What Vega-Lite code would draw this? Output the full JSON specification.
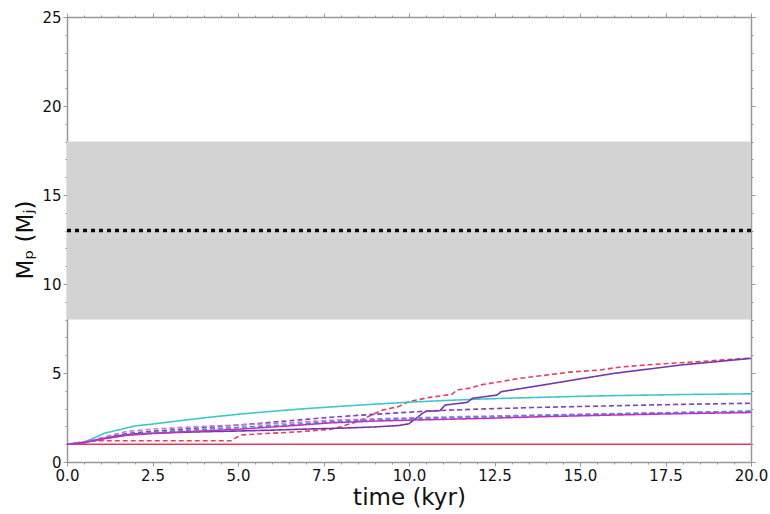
{
  "$schema": "https://vega.github.io/schema/vega-lite/v6.json",
  "autosize": "none",
  "width": 684,
  "height": 445,
  "padding": {"left": 67, "top": 17, "right": 19, "bottom": 52},
  "background": "white",
  "config": {
    "font": "DejaVu Sans",
    "view": {"stroke": null},
    "axis": {
      "grid": false,
      "domainColor": "#999999",
      "domainWidth": 1.5,
      "tickColor": "#999999",
      "tickWidth": 1,
      "labelColor": "#111111",
      "labelFontSize": 15,
      "labelFont": "DejaVu Sans",
      "titleFont": "DejaVu Sans",
      "titleFontWeight": "normal",
      "titleColor": "#111111",
      "titleFontSize": 23,
      "labelFlush": false,
      "labelOverlap": false
    }
  },
  "datasets": {
    "band": [{"x0": 0, "x1": 20, "lo": 8, "hi": 18}],
    "level": [{"mass": 13}],
    "tracks": [
      {"series": "s1", "t": 0, "m": 1.0}, {"series": "s1", "t": 5, "m": 1.0}, {"series": "s1", "t": 10, "m": 1.0}, {"series": "s1", "t": 15, "m": 1.0}, {"series": "s1", "t": 20, "m": 1.0},

      {"series": "s2", "t": 0, "m": 1.0}, {"series": "s2", "t": 0.3, "m": 1.08}, {"series": "s2", "t": 0.6, "m": 1.17}, {"series": "s2", "t": 1.0, "m": 1.19}, {"series": "s2", "t": 2, "m": 1.19}, {"series": "s2", "t": 3, "m": 1.19}, {"series": "s2", "t": 4, "m": 1.19}, {"series": "s2", "t": 4.8, "m": 1.19}, {"series": "s2", "t": 4.95, "m": 1.38}, {"series": "s2", "t": 5.1, "m": 1.52}, {"series": "s2", "t": 6, "m": 1.62}, {"series": "s2", "t": 6.8, "m": 1.7}, {"series": "s2", "t": 7.7, "m": 1.84}, {"series": "s2", "t": 8.0, "m": 1.98}, {"series": "s2", "t": 8.5, "m": 2.28}, {"series": "s2", "t": 9.2, "m": 2.9}, {"series": "s2", "t": 9.7, "m": 3.12}, {"series": "s2", "t": 10.0, "m": 3.4}, {"series": "s2", "t": 10.6, "m": 3.63}, {"series": "s2", "t": 11.26, "m": 3.8}, {"series": "s2", "t": 11.4, "m": 4.05}, {"series": "s2", "t": 11.8, "m": 4.15}, {"series": "s2", "t": 12.1, "m": 4.33}, {"series": "s2", "t": 12.66, "m": 4.51}, {"series": "s2", "t": 13.25, "m": 4.7}, {"series": "s2", "t": 14.0, "m": 4.88}, {"series": "s2", "t": 14.7, "m": 5.05}, {"series": "s2", "t": 15.58, "m": 5.17}, {"series": "s2", "t": 16.2, "m": 5.34}, {"series": "s2", "t": 17.0, "m": 5.46}, {"series": "s2", "t": 17.8, "m": 5.56}, {"series": "s2", "t": 18.5, "m": 5.64}, {"series": "s2", "t": 19.2, "m": 5.74}, {"series": "s2", "t": 20, "m": 5.84},

      {"series": "s3", "t": 0, "m": 1.0}, {"series": "s3", "t": 0.5, "m": 1.12}, {"series": "s3", "t": 0.75, "m": 1.32}, {"series": "s3", "t": 1.1, "m": 1.62}, {"series": "s3", "t": 1.5, "m": 1.8}, {"series": "s3", "t": 2.0, "m": 2.03}, {"series": "s3", "t": 2.5, "m": 2.13}, {"series": "s3", "t": 3, "m": 2.25}, {"series": "s3", "t": 4, "m": 2.48}, {"series": "s3", "t": 5, "m": 2.68}, {"series": "s3", "t": 6, "m": 2.85}, {"series": "s3", "t": 7, "m": 3.0}, {"series": "s3", "t": 8, "m": 3.13}, {"series": "s3", "t": 9, "m": 3.25}, {"series": "s3", "t": 10, "m": 3.36}, {"series": "s3", "t": 11, "m": 3.45}, {"series": "s3", "t": 12, "m": 3.53}, {"series": "s3", "t": 13, "m": 3.59}, {"series": "s3", "t": 14, "m": 3.64}, {"series": "s3", "t": 15, "m": 3.69}, {"series": "s3", "t": 16, "m": 3.73}, {"series": "s3", "t": 17, "m": 3.76}, {"series": "s3", "t": 18, "m": 3.79}, {"series": "s3", "t": 19, "m": 3.81}, {"series": "s3", "t": 20, "m": 3.83},

      {"series": "s4", "t": 0, "m": 1.0}, {"series": "s4", "t": 0.5, "m": 1.1}, {"series": "s4", "t": 1.0, "m": 1.3}, {"series": "s4", "t": 1.5, "m": 1.48}, {"series": "s4", "t": 2, "m": 1.58}, {"series": "s4", "t": 3, "m": 1.65}, {"series": "s4", "t": 4, "m": 1.7}, {"series": "s4", "t": 5, "m": 1.74}, {"series": "s4", "t": 6, "m": 1.79}, {"series": "s4", "t": 6.8, "m": 1.84}, {"series": "s4", "t": 8, "m": 1.9}, {"series": "s4", "t": 9, "m": 1.97}, {"series": "s4", "t": 9.7, "m": 2.05}, {"series": "s4", "t": 10.0, "m": 2.15}, {"series": "s4", "t": 10.4, "m": 2.74}, {"series": "s4", "t": 10.5, "m": 2.85}, {"series": "s4", "t": 10.9, "m": 2.88}, {"series": "s4", "t": 11.06, "m": 3.2}, {"series": "s4", "t": 11.7, "m": 3.35}, {"series": "s4", "t": 11.86, "m": 3.58}, {"series": "s4", "t": 12.57, "m": 3.76}, {"series": "s4", "t": 12.7, "m": 3.95}, {"series": "s4", "t": 14, "m": 4.35}, {"series": "s4", "t": 15, "m": 4.67}, {"series": "s4", "t": 16, "m": 4.98}, {"series": "s4", "t": 17, "m": 5.22}, {"series": "s4", "t": 18, "m": 5.46}, {"series": "s4", "t": 19, "m": 5.64}, {"series": "s4", "t": 20, "m": 5.82},

      {"series": "s5", "t": 0, "m": 1.0}, {"series": "s5", "t": 0.5, "m": 1.1}, {"series": "s5", "t": 1, "m": 1.33}, {"series": "s5", "t": 1.75, "m": 1.6}, {"series": "s5", "t": 2.5, "m": 1.73}, {"series": "s5", "t": 3.7, "m": 1.89}, {"series": "s5", "t": 5, "m": 2.07}, {"series": "s5", "t": 6.5, "m": 2.32}, {"series": "s5", "t": 7.7, "m": 2.51}, {"series": "s5", "t": 8.5, "m": 2.62}, {"series": "s5", "t": 9.5, "m": 2.74}, {"series": "s5", "t": 10.7, "m": 2.88}, {"series": "s5", "t": 12, "m": 2.97}, {"series": "s5", "t": 13.6, "m": 3.06}, {"series": "s5", "t": 16, "m": 3.16}, {"series": "s5", "t": 18, "m": 3.24}, {"series": "s5", "t": 20, "m": 3.3},

      {"series": "s6", "t": 0, "m": 1.0}, {"series": "s6", "t": 0.5, "m": 1.1}, {"series": "s6", "t": 1, "m": 1.36}, {"series": "s6", "t": 1.75, "m": 1.72}, {"series": "s6", "t": 2.5, "m": 1.85}, {"series": "s6", "t": 3.7, "m": 1.98}, {"series": "s6", "t": 5, "m": 2.08}, {"series": "s6", "t": 6.5, "m": 2.2}, {"series": "s6", "t": 7.7, "m": 2.34}, {"series": "s6", "t": 9, "m": 2.43}, {"series": "s6", "t": 10, "m": 2.48}, {"series": "s6", "t": 12, "m": 2.57}, {"series": "s6", "t": 14, "m": 2.65}, {"series": "s6", "t": 16, "m": 2.72}, {"series": "s6", "t": 18, "m": 2.79}, {"series": "s6", "t": 20, "m": 2.85},

      {"series": "s7", "t": 0, "m": 1.0}, {"series": "s7", "t": 0.5, "m": 1.08}, {"series": "s7", "t": 1, "m": 1.28}, {"series": "s7", "t": 1.75, "m": 1.52}, {"series": "s7", "t": 2.5, "m": 1.65}, {"series": "s7", "t": 3.7, "m": 1.8}, {"series": "s7", "t": 5, "m": 1.94}, {"series": "s7", "t": 6.5, "m": 2.1}, {"series": "s7", "t": 7.7, "m": 2.26}, {"series": "s7", "t": 9, "m": 2.37}, {"series": "s7", "t": 10, "m": 2.43}, {"series": "s7", "t": 12, "m": 2.52}, {"series": "s7", "t": 14, "m": 2.62}, {"series": "s7", "t": 16, "m": 2.7}, {"series": "s7", "t": 18, "m": 2.78}, {"series": "s7", "t": 20, "m": 2.86},

      {"series": "s8", "t": 0, "m": 1.0}, {"series": "s8", "t": 0.5, "m": 1.08}, {"series": "s8", "t": 1, "m": 1.28}, {"series": "s8", "t": 1.75, "m": 1.5}, {"series": "s8", "t": 2.5, "m": 1.6}, {"series": "s8", "t": 3.7, "m": 1.72}, {"series": "s8", "t": 5, "m": 1.84}, {"series": "s8", "t": 6.5, "m": 2.03}, {"series": "s8", "t": 7.7, "m": 2.2}, {"series": "s8", "t": 9, "m": 2.3}, {"series": "s8", "t": 10, "m": 2.35}, {"series": "s8", "t": 12, "m": 2.44}, {"series": "s8", "t": 14, "m": 2.55}, {"series": "s8", "t": 16, "m": 2.64}, {"series": "s8", "t": 18, "m": 2.72}, {"series": "s8", "t": 20, "m": 2.78}
    ]
  },
  "resolve": {"axis": {"x": "independent", "y": "independent"}},
  "layer": [
    {
      "data": {"name": "band"},
      "mark": {"type": "rect", "color": "#d3d3d3"},
      "encoding": {
        "x": {"field": "x0", "type": "quantitative", "scale": {"domain": [0, 20], "nice": false, "zero": false},
          "axis": {"orient": "top", "title": null, "labels": false,
            "values": [0,0.5,1,1.5,2,2.5,3,3.5,4,4.5,5,5.5,6,6.5,7,7.5,8,8.5,9,9.5,10,10.5,11,11.5,12,12.5,13,13.5,14,14.5,15,15.5,16,16.5,17,17.5,18,18.5,19,19.5,20],
            "tickSize": {"condition": {"test": "datum.value % 2.5 === 0", "value": 4}, "value": 2}}},
        "x2": {"field": "x1"},
        "y": {"field": "lo", "type": "quantitative", "scale": {"domain": [0, 25], "nice": false},
          "axis": {"orient": "right", "title": null, "labels": false,
            "values": [0,1,2,3,4,5,6,7,8,9,10,11,12,13,14,15,16,17,18,19,20,21,22,23,24,25],
            "tickSize": {"condition": {"test": "datum.value % 5 === 0", "value": 4}, "value": 2}}},
        "y2": {"field": "hi"}
      }
    },
    {
      "data": {"name": "level"},
      "mark": {"type": "rule", "color": "black", "strokeWidth": 3.5, "strokeDash": [4, 4]},
      "encoding": {
        "y": {"field": "mass", "type": "quantitative", "scale": {"domain": [0, 25], "nice": false}, "axis": null}
      }
    },
    {
      "data": {"name": "tracks"},
      "mark": {"type": "line", "strokeWidth": 1.6, "clip": true},
      "encoding": {
        "x": {"field": "t", "type": "quantitative", "scale": {"domain": [0, 20], "nice": false, "zero": false},
          "axis": {"orient": "bottom", "title": "time (kyr)", "titlePadding": 3, "labelPadding": 2,
            "values": [0,0.5,1,1.5,2,2.5,3,3.5,4,4.5,5,5.5,6,6.5,7,7.5,8,8.5,9,9.5,10,10.5,11,11.5,12,12.5,13,13.5,14,14.5,15,15.5,16,16.5,17,17.5,18,18.5,19,19.5,20],
            "labelExpr": "datum.value % 2.5 === 0 ? format(datum.value, '.1f') : ''",
            "tickSize": {"condition": {"test": "datum.value % 2.5 === 0", "value": 4}, "value": 2}}},
        "y": {"field": "m", "type": "quantitative", "scale": {"domain": [0, 25], "nice": false},
          "axis": {"orient": "left", "title": "Mₚ (Mⱼ)", "titlePadding": 4, "labelPadding": 2,
            "values": [0,1,2,3,4,5,6,7,8,9,10,11,12,13,14,15,16,17,18,19,20,21,22,23,24,25],
            "labelExpr": "datum.value % 5 === 0 ? format(datum.value, 'd') : ''",
            "tickSize": {"condition": {"test": "datum.value % 5 === 0", "value": 4}, "value": 2}}},
        "color": {"field": "series", "type": "nominal", "legend": null,
          "scale": {"domain": ["s1","s2","s3","s4","s5","s6","s7","s8"],
            "range": ["#e23a5e","#e5405c","#3cc8c8","#7436a8","#7d45b5","#c77ad8","#3a95c8","#c42fc8"]}},
        "strokeDash": {"field": "series", "type": "nominal", "legend": null,
          "scale": {"domain": ["s1","s2","s3","s4","s5","s6","s7","s8"],
            "range": [[1,0],[5,3],[1,0],[1,0],[5,3],[5,3],[5,3],[1,0]]}},
        "order": {"field": "t", "type": "quantitative"}
      }
    }
  ]
}
